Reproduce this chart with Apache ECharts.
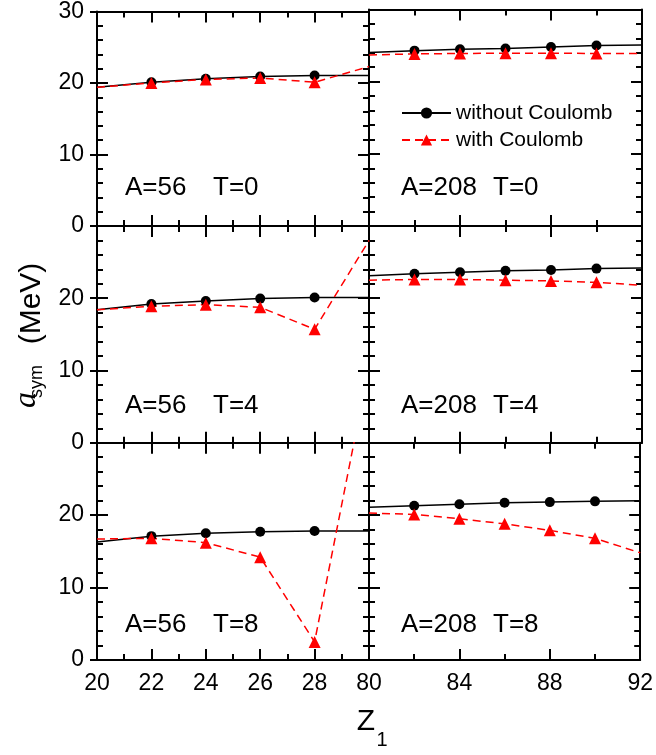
<!DOCTYPE html>
<html><head><meta charset="utf-8">
<script src="https://cdn.jsdelivr.net/npm/echarts@6/dist/echarts.min.js"></script>
<style>html,body{margin:0;padding:0;background:#fff}#c{width:656px;height:755px}</style>
</head><body><div id="c"></div>
<script>
// ---- data ----
const zA56 = [20, 22, 24, 26, 28, 30];
const zA208 = [80, 82, 84, 86, 88, 90, 92];

const a56T0NoC = [19.4, 20.1, 20.6, 20.9, 21.05, 21.05];
const a56T0C   = [19.4, 20.0, 20.5, 20.7, 20.1, 22.3];
const a56T4NoC = [18.4, 19.2, 19.6, 19.95, 20.1, 20.1];
const a56T4C   = [18.4, 18.9, 19.1, 18.75, 15.7, 28.0];
const a56T8NoC = [16.3, 17.1, 17.5, 17.7, 17.8, 17.8];
const a56T8C   = [16.7, 16.8, 16.2, 14.2, 2.5, 40.5];

const a208T0NoC = [24.05, 24.3, 24.5, 24.6, 24.8, 25.0, 25.07];
const a208T0C   = [23.7, 23.85, 23.9, 23.95, 23.95, 23.9, 23.9];
const a208T4NoC = [23.1, 23.4, 23.6, 23.8, 23.9, 24.1, 24.2];
const a208T4C   = [22.5, 22.6, 22.6, 22.5, 22.4, 22.2, 21.8];
const a208T8NoC = [21.1, 21.3, 21.5, 21.7, 21.8, 21.9, 22.0];
const a208T8C   = [20.3, 20.1, 19.5, 18.8, 17.9, 16.8, 14.8];

const seriesNames = ['without Coulomb', 'with Coulomb'];
const labelsA = ['A=56', 'A=208'];
const labelsT = ['T=0', 'T=4', 'T=8'];
const xRangeA56 = {min: 20, max: 30, interval: 2, minorSplit: 2};
const xRangeA208 = {min: 80, max: 92, interval: 4, minorSplit: 2};
const yRange = {min: 0, max: 30, interval: 10, minorSplit: 5};

const panels = [
  {row: 0, col: 0, z: zA56, noC: a56T0NoC, withC: a56T0C},
  {row: 0, col: 1, z: zA208, noC: a208T0NoC, withC: a208T0C},
  {row: 1, col: 0, z: zA56, noC: a56T4NoC, withC: a56T4C},
  {row: 1, col: 1, z: zA208, noC: a208T4NoC, withC: a208T4C},
  {row: 2, col: 0, z: zA56, noC: a56T8NoC, withC: a56T8C},
  {row: 2, col: 1, z: zA208, noC: a208T8NoC, withC: a208T8C}
];

// ---- layout ----
const rowTop = [9.5, 226, 442.7];
const rowH = [216.5, 216.7, 217.3];
const colLeft = [97, 369];
const colW = [272, 273];
const annY = [187.5, 406, 625];
const annXA = [125, 401];
const annXT = [213, 493];
const FONT = '"Liberation Sans", Arial, sans-serif';

const ls = (w) => ({color: '#000', width: w});
function axisStyle(r) {
  return {
    splitLine: {show: false},
    axisLine: {show: true, onZero: false, lineStyle: ls(2)},
    axisTick: {show: true, inside: true, length: 11, lineStyle: ls(2)},
    minorTick: {show: true, splitNumber: r.minorSplit, length: 6, lineStyle: ls(2)}
  };
}

const grids = [], xAxes = [], yAxes = [], series = [], graphics = [];

const mk = (z, vals, sym) => z.map((x, i) => ({
  value: [x, vals[i]],
  symbol: (i === 0 || i === z.length - 1) ? 'none' : sym
}));

panels.forEach((p, gi) => {
  grids.push({left: colLeft[p.col], top: rowTop[p.row], width: colW[p.col], height: rowH[p.row]});
  const xr = p.col === 0 ? xRangeA56 : xRangeA208;
  const xi = xAxes.length;
  xAxes.push(Object.assign({type: 'value', gridIndex: gi, min: xr.min, max: xr.max, interval: xr.interval,
    position: 'bottom',
    axisLabel: {show: p.row === 2, margin: 12, fontSize: 23, color: '#000', fontFamily: FONT,
      formatter: (v) => (p.col === 0 && v === xr.max) ? '' : String(v)}}, axisStyle(xr)));
  xAxes.push(Object.assign({type: 'value', gridIndex: gi, min: xr.min, max: xr.max, interval: xr.interval,
    position: 'top', axisLabel: {show: false}}, axisStyle(xr)));

  const yi = yAxes.length;
  yAxes.push(Object.assign({type: 'value', gridIndex: gi, min: yRange.min, max: yRange.max, interval: yRange.interval,
    position: 'left',
    axisLabel: {show: p.col === 0, margin: 13, fontSize: 23, color: '#000', fontFamily: FONT,
      formatter: (v) => (p.row > 0 && v === yRange.max) ? '' : String(v)}}, axisStyle(yRange)));
  yAxes.push(Object.assign({type: 'value', gridIndex: gi, min: yRange.min, max: yRange.max, interval: yRange.interval,
    position: 'right', axisLabel: {show: false}}, axisStyle(yRange)));
  if (p.col === 0) {
    yAxes.push({type: 'value', gridIndex: gi, min: yRange.min, max: yRange.max, interval: yRange.interval,
      position: 'left', splitLine: {show: false}, axisLine: {show: false},
      axisTick: {show: true, inside: false, length: 7, lineStyle: ls(2)},
      axisLabel: {show: false}});
  }

  series.push({
    name: seriesNames[0], type: 'line', xAxisIndex: xi, yAxisIndex: yi,
    data: mk(p.z, p.noC, 'circle'), symbol: 'circle', symbolSize: 10,
    itemStyle: {color: '#000'}, lineStyle: {color: '#000', width: 1.5}
  });
  series.push({
    name: seriesNames[1], type: 'line', xAxisIndex: xi, yAxisIndex: yi,
    data: mk(p.z, p.withC, 'triangle'), symbol: 'triangle', symbolSize: 12,
    itemStyle: {color: '#ff0000'}, lineStyle: {color: '#ff0000', width: 1.5, type: [8, 5]}
  });

  graphics.push({type: 'text', zlevel: 1, x: annXA[p.col], y: annY[p.row],
    style: {text: labelsA[p.col], fontSize: 26, fontFamily: FONT, fill: '#000', align: 'left', verticalAlign: 'middle'}});
  graphics.push({type: 'text', zlevel: 1, x: annXT[p.col], y: annY[p.row],
    style: {text: labelsT[p.row], fontSize: 26, fontFamily: FONT, fill: '#000', align: 'left', verticalAlign: 'middle'}});
});

// axis titles
graphics.push({type: 'text', zlevel: 1, x: 32, y: 303.5, rotation: Math.PI / 2,
  style: {text: '(MeV)', fontSize: 30, fontFamily: FONT, fill: '#000', align: 'center', verticalAlign: 'middle'}});
graphics.push({type: 'text', zlevel: 1, x: 27, y: 400, rotation: Math.PI / 2,
  style: {text: 'a', fontSize: 32, fontStyle: 'italic', fontFamily: '"Liberation Serif", serif', fill: '#000', align: 'center', verticalAlign: 'middle'}});
graphics.push({type: 'text', zlevel: 1, x: 37, y: 381.5, rotation: Math.PI / 2,
  style: {text: 'sym', fontSize: 18, fontFamily: FONT, fill: '#000', align: 'center', verticalAlign: 'middle'}});
graphics.push({type: 'text', zlevel: 1, x: 366, y: 722,
  style: {text: 'Z', fontSize: 30, fontFamily: FONT, fill: '#000', align: 'center', verticalAlign: 'middle'}});
graphics.push({type: 'text', zlevel: 1, x: 382, y: 740,
  style: {text: '1', fontSize: 20, fontFamily: FONT, fill: '#000', align: 'center', verticalAlign: 'middle'}});

const chart = echarts.init(document.getElementById('c'));
chart.setOption({
  animation: false,
  grid: grids,
  xAxis: xAxes,
  yAxis: yAxes,
  series: series,
  legend: {
    data: seriesNames, left: 401, top: 102.5, orient: 'vertical', padding: 0,
    itemWidth: 49, itemHeight: 14, itemGap: 6, selectedMode: false,
    textStyle: {fontSize: 21, color: '#000', fontFamily: FONT, lineHeight: 21}
  },
  graphic: {elements: graphics}
});
</script>
</body></html>
